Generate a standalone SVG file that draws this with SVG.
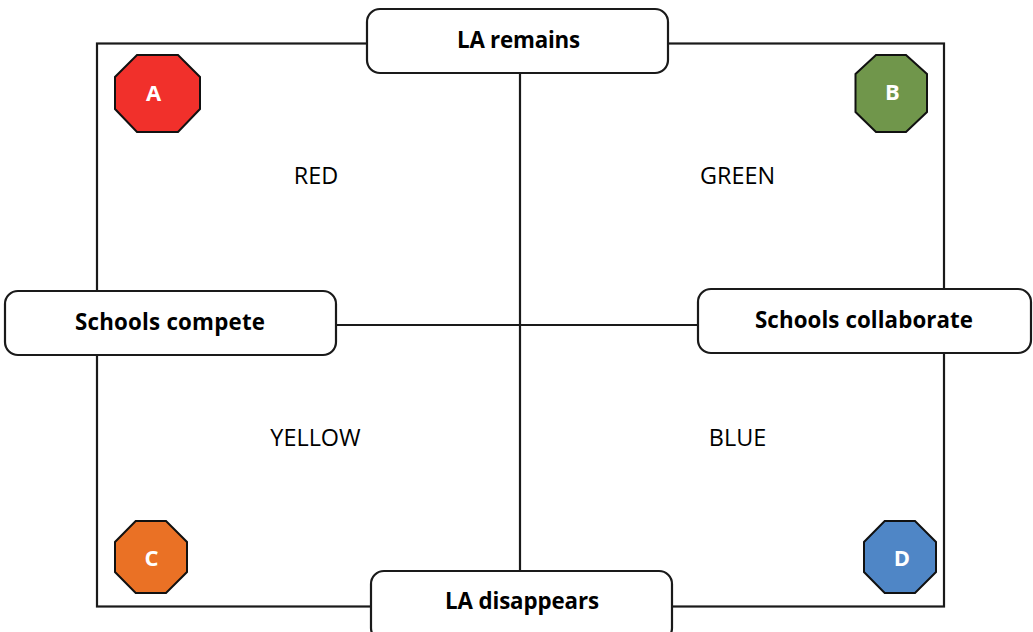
<svg xmlns="http://www.w3.org/2000/svg" width="1033" height="632" viewBox="0 0 1033 632">
<style>
.c{fill:none;stroke:#1a1a1a;stroke-width:2.200}
.b{fill:#fff;stroke:#1a1a1a;stroke-width:2.200}
.o{stroke:#111;stroke-width:2}
text{font-family:"Open Sans","Noto Sans","Liberation Sans",sans-serif;text-anchor:middle}
.t{font-size:22.300px;font-weight:700;fill:#000}
.l{font-size:23.400px;fill:#000}
.w{font-size:22px;font-weight:700;fill:#fff}
</style>
<rect width="1033" height="632" fill="#fff"/>
<g id="connectors">
<rect class="c" x="97" y="43.500" width="847" height="563"/>
<path class="c" d="M336 325H698M520 73V571"/>
</g>
<g id="node-la-remains"><rect class="b" x="367" y="9" width="301" height="64" rx="13"/><text class="t" x="518.500" y="47.800" textLength="123">LA remains</text></g>
<g id="node-compete"><rect class="b" x="5" y="291" width="331" height="64" rx="13"/><text class="t" x="170" y="329.500" textLength="190">Schools compete</text></g>
<g id="node-collaborate"><rect class="b" x="698" y="289" width="333" height="64" rx="13"/><text class="t" x="864" y="327.500" textLength="218">Schools collaborate</text></g>
<g id="node-la-disappears"><rect class="b" x="371" y="571" width="301" height="70" rx="13"/><text class="t" x="522" y="609" textLength="154">LA disappears</text></g>
<g id="node-a"><polygon class="o" fill="#f1302b" points="137,55 178,55 200,77 200,109 178,132 137,132 115,109 115,77"/><text class="w" x="153.500" y="101">A</text></g>
<g id="node-b"><polygon class="o" fill="#70964b" points="876,55 906,55 927,74 927,112 906,132 876,132 855.500,112 855.500,74"/><text class="w" x="892.500" y="100">B</text></g>
<g id="node-c"><polygon class="o" fill="#ea7125" points="135.700,521 166,521 187,542 187,572 166,593 135.700,593 115,572 115,542"/><text class="w" x="151.500" y="566">C</text></g>
<g id="node-d"><polygon class="o" fill="#4f86c6" points="884.700,521 915,521 936,542 936,572 915,593 884.700,593 864,572 864,542"/><text class="w" x="902" y="566">D</text></g>
<g id="labels">
<text class="l" x="316" y="183.600">RED</text>
<text class="l" x="737.500" y="183.600">GREEN</text>
<text class="l" x="315.500" y="445.600">YELLOW</text>
<text class="l" x="737.500" y="445.600">BLUE</text>
</g>
</svg>
